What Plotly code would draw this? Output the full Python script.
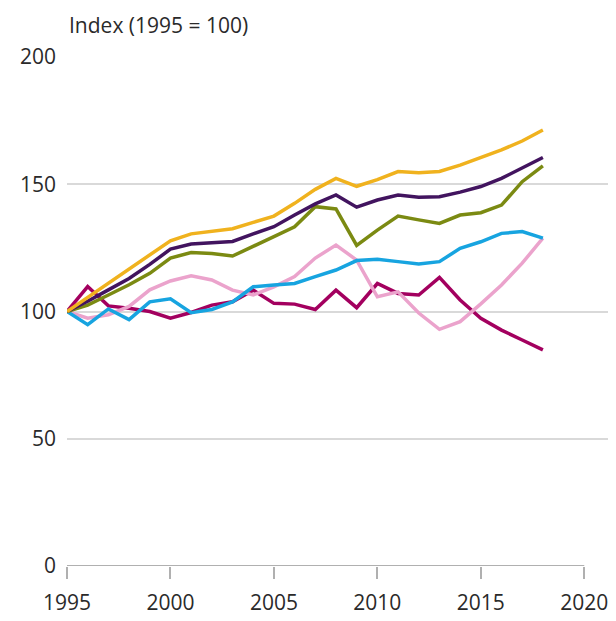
import plotly.graph_objects as go

years = list(range(1995, 2019))

yellow = [100, 105.5, 111, 116.5, 122, 127.8, 130.5, 131.5, 132.5, 135, 137.5, 142.5, 148, 152.3, 149.2, 151.8, 155, 154.5, 155, 157.5, 160.5, 163.5, 167, 171.3]
purple = [100, 104, 108.5, 113, 118.5, 124.5, 126.5, 127, 127.5, 130.5, 133.3, 137.9, 142.3, 145.8, 141, 143.8, 145.8, 144.9, 145.1, 146.9, 149.1, 152.3, 156.3, 160.5]
green = [100, 102.5, 106.5, 110.5, 115, 121, 123.2, 122.8, 121.8, 125.5, 129.4, 133.3, 141.2, 140.3, 126, 132, 137.5, 136, 134.6, 137.9, 138.8, 141.8, 151, 157.2]
blue = [100, 94.8, 101, 96.8, 103.8, 105, 99.5, 100.8, 103.8, 109.7, 110.4, 111, 113.7, 116.3, 120, 120.5, 119.6, 118.7, 119.6, 124.8, 127.4, 130.7, 131.4, 128.8]
pink = [100, 97.4, 98.7, 102, 108.5, 112, 114, 112.4, 108.4, 106.5, 109.7, 113.7, 121, 126.1, 120.2, 105.8, 107.7, 99.4, 93, 96, 103, 110.4, 119, 128.8]
magenta = [100, 109.8, 102.2, 101.3, 100, 97.4, 99.6, 102.5, 103.8, 108.4, 103.2, 102.9, 100.8, 108.4, 101.5, 111, 107.1, 106.5, 113.4, 104.5, 97.3, 92.7, 88.8, 84.9]

series = [
    ("magenta", magenta, "#A3005F"),
    ("pink", pink, "#EBA3CC"),
    ("blue", blue, "#17A4E0"),
    ("green", green, "#7B8A12"),
    ("purple", purple, "#42145F"),
    ("yellow", yellow, "#F0B21E"),
]

y_ticks = [0, 50, 100, 150, 200]
x_ticks = [1995, 2000, 2005, 2010, 2015, 2020]

fig = go.Figure()
for name, vals, col in series:
    fig.add_trace(go.Scatter(x=years, y=vals, mode="lines", name=name,
                             line=dict(color=col, width=3.5), showlegend=False))

font = dict(family="Open Sans, Noto Sans, sans-serif", size=21, color="#2a2a2a")

fig.update_layout(
    width=616, height=621,
    margin=dict(l=55, r=12, t=49, b=63),
    paper_bgcolor="white", plot_bgcolor="white",
    font=font,
    xaxis=dict(range=[1995, 2021.34], tickvals=x_ticks, ticks="outside", ticklen=12,
               tickcolor="#b0b0b0", tickwidth=2, showgrid=False, zeroline=False,
               showline=False, ticklabelstandoff=6),
    yaxis=dict(range=[0, 200], tickvals=y_ticks, showgrid=True, gridcolor="#d9d9d9",
               gridwidth=2, zeroline=False, showline=False, ticks="", ticklabelstandoff=10),
    annotations=[dict(text="Index (1995 = 100)", xref="paper", yref="paper", x=0, y=1 + 32 / 509,
                      xanchor="left", yanchor="middle", showarrow=False, font=font)],
    shapes=[dict(type="line", xref="x", yref="y", x0=1995, x1=2020, y0=0, y1=0,
                 line=dict(color="#b0b0b0", width=2), layer="below")],
)

fig.write_html("out.html")
